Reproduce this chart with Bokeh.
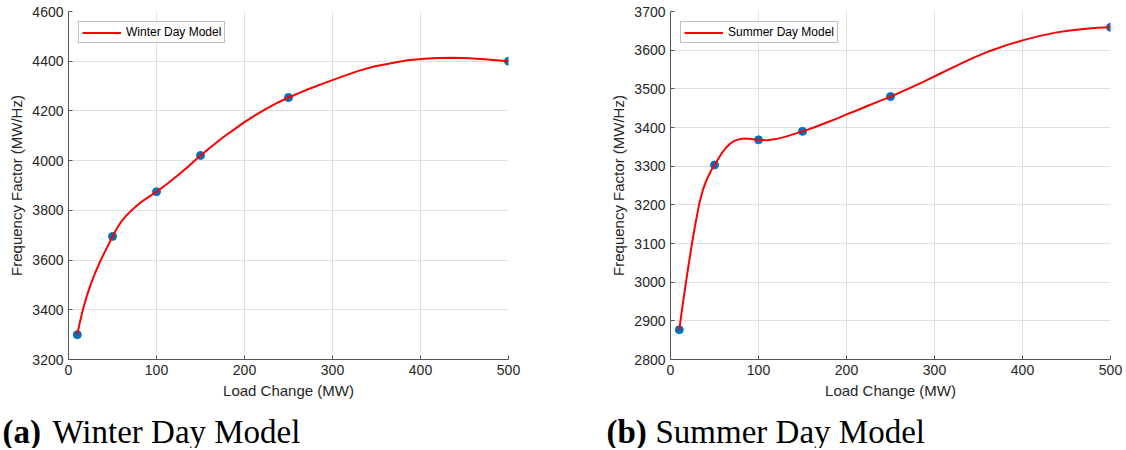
from bokeh.plotting import figure
from bokeh.models import Range1d, Label, Legend, LegendItem
from bokeh.layouts import row, column
from bokeh.embed import file_html
from bokeh.resources import INLINE

# ---- data ----
load_x = [10, 50, 100, 150, 250, 500]
winter_y = [3300, 3695, 3875, 4021, 4254, 4400]
summer_y = [2877, 3303, 3368, 3390, 3480, 3659]

# red model curves
winter_curve_x = [10, 12.5, 15, 17.5, 20, 25, 30, 35, 40, 45, 50, 55, 60, 65, 70, 76, 82, 90, 100,
                  112, 124, 137, 150, 162.5, 175, 187.5, 200, 212.5, 225, 237.5, 250, 270, 290.7,
                  310, 328.6, 347, 366.5, 385, 404.3, 420, 438.4, 455, 472.5, 486, 500]
winter_curve_y = [3300, 3343, 3381, 3415, 3446, 3500, 3546, 3587, 3624, 3659, 3695, 3727, 3755,
                  3776, 3794, 3814, 3832, 3851, 3875, 3906, 3940, 3979, 4021, 4057, 4092, 4124,
                  4155, 4183, 4209, 4233, 4254, 4284, 4312, 4337, 4360, 4379, 4392, 4404, 4410,
                  4413, 4414, 4412, 4408, 4404, 4400]

summer_curve_x = [10, 12, 14, 17.6, 21, 24.4, 28.4, 32.4, 36.7, 41.1, 45.5, 50, 54, 58.1, 62.8,
                  67.6, 73, 79, 85, 92, 100, 110, 120, 132, 150, 163, 177.5, 189, 200.2, 211.5,
                  222.9, 236, 250, 268, 287.3, 306, 325.2, 344, 363, 382, 401, 420, 438.9, 454,
                  469, 485, 500]
summer_curve_y = [2877, 2911, 2944, 3000, 3051, 3100, 3152, 3200, 3238, 3265, 3286, 3303, 3318,
                  3333, 3347, 3358, 3366, 3370, 3371.5, 3370, 3368, 3367, 3370, 3377, 3390, 3400,
                  3413, 3423, 3434, 3444, 3455, 3467, 3480, 3498, 3518, 3539, 3560, 3580, 3598,
                  3613, 3626, 3637, 3646, 3651, 3655, 3658, 3659]

x_ticks = [0, 100, 200, 300, 400, 500]
winter_y_ticks = [3200, 3400, 3600, 3800, 4000, 4200, 4400, 4600]
summer_y_ticks = [2800, 2900, 3000, 3100, 3200, 3300, 3400, 3500, 3600, 3700]

x_label = "Load Change (MW)"
y_label = "Frequency Factor (MW/Hz)"

SANS = "Liberation Sans"
SERIF = "Liberation Serif"
AX = "#262626"


def panel(width, bl, br, pts_y, cx, cy, yr, yticks, leg):
    p = figure(width=width, height=405, output_backend="svg", toolbar_location=None,
               x_range=Range1d(0, 500), y_range=Range1d(*yr),
               min_border_left=bl, min_border_right=br, min_border_top=11, min_border_bottom=46,
               x_axis_label=x_label, y_axis_label=y_label)
    p.outline_line_color = None
    p.background_fill_color = "white"
    p.xaxis.ticker = x_ticks
    p.yaxis.ticker = yticks
    for ax in (p.xaxis, p.yaxis):
        ax.axis_line_color = "#555555"
        ax.axis_line_width = 1
        ax.major_tick_in = 4
        ax.major_tick_out = 0
        ax.major_tick_line_color = "#555555"
        ax.minor_tick_line_color = None
        ax.major_label_text_font = SANS
        ax.major_label_text_font_size = "14px"
        ax.major_label_text_color = AX
        ax.major_label_standoff = 5
        ax.axis_label_text_font = SANS
        ax.axis_label_text_font_size = "15px"
        ax.axis_label_text_font_style = "normal"
        ax.axis_label_text_color = AX
        ax.axis_label_standoff = 4
    p.grid.grid_line_color = "#E0E0E0"
    p.grid.grid_line_width = 1

    p.scatter(load_x, pts_y, size=8, fill_color="#0072BD", line_color="#0072BD")
    r = p.line(cx, cy, line_color="#FF0000", line_width=2, line_join="round")

    lg = Legend(items=[LegendItem(label=leg, renderers=[r])], location="top_left")
    lg.margin = 10
    lg.padding = 3
    lg.spacing = 0
    lg.glyph_width = 39
    lg.glyph_height = 13
    lg.label_height = 13
    lg.label_standoff = 5
    lg.label_text_font = SANS
    lg.label_text_font_size = "12px"
    lg.label_text_color = "#000000"
    lg.border_line_color = "#808080"
    lg.border_line_width = 1
    lg.background_fill_color = "white"
    lg.background_fill_alpha = 1
    p.add_layout(lg)
    return p


def caption(width, tag, text, tag_x, text_x):
    c = figure(width=width, height=43, output_backend="svg", toolbar_location=None,
               x_range=Range1d(0, width), y_range=Range1d(0, 43),
               min_border=0, min_border_left=0, min_border_right=0,
               min_border_top=0, min_border_bottom=0)
    c.axis.visible = False
    c.grid.visible = False
    c.outline_line_color = None
    c.add_layout(Label(x=tag_x, y=17, x_units="screen", y_units="screen", text=tag,
                       text_font=SERIF, text_font_style="bold", text_font_size="33px",
                       text_color="#000000", text_baseline="alphabetic"))
    c.add_layout(Label(x=text_x, y=17, x_units="screen", y_units="screen", text=text,
                       text_font=SERIF, text_font_size="33px",
                       text_color="#000000", text_baseline="alphabetic"))
    return c


p1 = panel(598, 68, 90, winter_y, winter_curve_x, winter_curve_y, (3200, 4600), winter_y_ticks,
           "Winter Day Model")
p2 = panel(526, 72, 14, summer_y, summer_curve_x, summer_curve_y, (2800, 3700), summer_y_ticks,
           "Summer Day Model")
c1 = caption(598, "(a)", "Winter Day Model", 2, 52)
c2 = caption(526, "(b)", "Summer Day Model", 8, 57)

layout = column(row(p1, p2), row(c1, c2))
open("out.html", "w").write(file_html(layout, INLINE))
